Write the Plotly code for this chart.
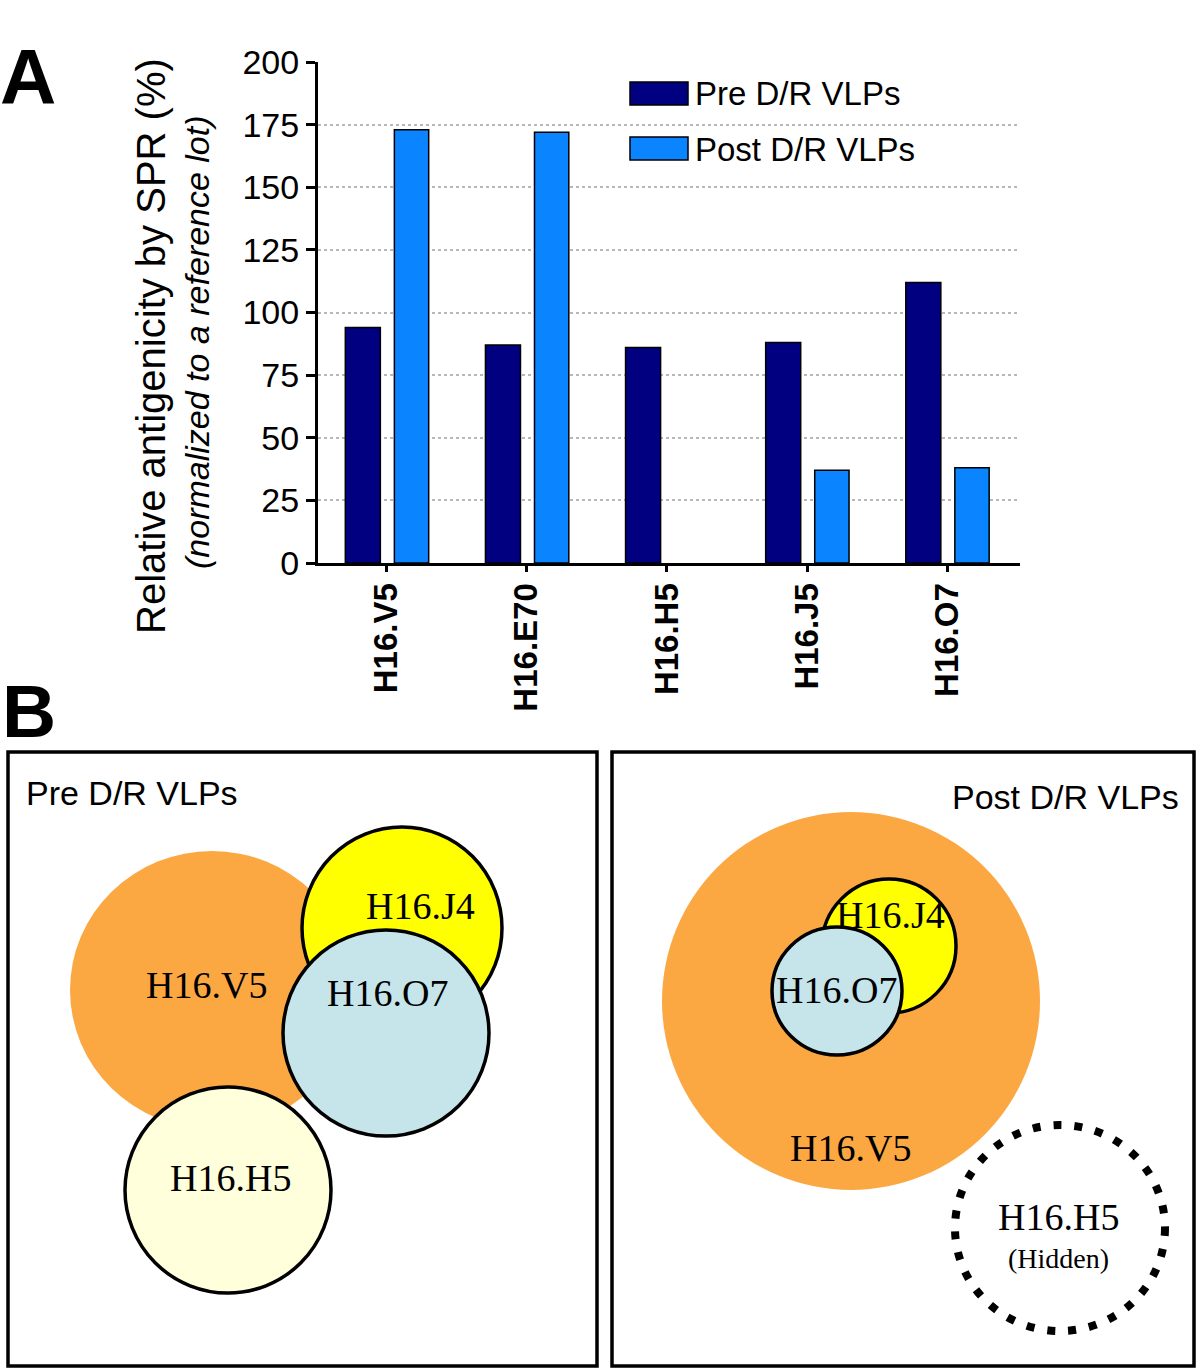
import plotly.graph_objects as go

# ---------------- data ----------------
categories = ["H16.V5", "H16.E70", "H16.H5", "H16.J5", "H16.O7"]
series_names = ["Pre D/R VLPs", "Post D/R VLPs"]
pre_values = [94, 87, 86, 88, 112]
post_values = [173, 172, 0, 37, 38]
y_ticks = [0, 25, 50, 75, 100, 125, 150, 175, 200]
grid_vals = [25, 50, 75, 100, 125, 150, 175]

# panel B diagram labels
venn_pre_labels = ["H16.V5", "H16.J4", "H16.O7", "H16.H5"]
venn_post_labels = ["H16.V5", "H16.J4", "H16.O7", "H16.H5"]

W, H = 1200, 1371
PRE_COLOR = "#000080"
POST_COLOR = "#0A84FF"
ORANGE = "#FBA843"
YELLOW = "#FFFF00"
LIGHTBLUE = "#C6E5EA"
LIGHTYELLOW = "#FFFFDC"
SANS = "Liberation Sans, Arial, sans-serif"
SERIF = "Liberation Serif, Times New Roman, serif"

fig = go.Figure()

fig.add_trace(go.Bar(
    x=categories, y=pre_values, name=series_names[0],
    offset=-0.295, width=0.25,
    marker=dict(color=PRE_COLOR,
                line=dict(color="black", width=[1.5 if v else 0 for v in pre_values])),
    showlegend=False,
))
fig.add_trace(go.Bar(
    x=categories, y=post_values, name=series_names[1],
    offset=0.055, width=0.245,
    marker=dict(color=POST_COLOR,
                line=dict(color="black", width=[1.5 if v else 0 for v in post_values])),
    showlegend=False,
))

# invisible trace for the pixel-space axes of panel B
fig.add_trace(go.Scatter(x=[None], y=[None], xaxis="x2", yaxis="y2",
                         showlegend=False, hoverinfo="skip"))

fig.update_layout(
    width=W, height=H,
    margin=dict(l=0, r=0, t=0, b=0, autoexpand=False),
    paper_bgcolor="white",
    plot_bgcolor="rgba(0,0,0,0)",
    barmode="overlay",
    xaxis=dict(
        type="category",
        domain=[318 / W, 1020 / W],
        range=[-0.49, 4.52],
        showline=True, linecolor="black", linewidth=3,
        ticks="outside", ticklen=6, tickwidth=3, tickcolor="black",
        tickangle=-90, ticklabelstandoff=-2,
        tickfont=dict(family=SANS, size=33, color="black", weight="bold"),
        showgrid=False, zeroline=False, automargin=False,
        anchor="y",
    ),
    yaxis=dict(
        domain=[1 - 563 / H, 1 - 62 / H],
        range=[0, 200],
        tickmode="array", tickvals=y_ticks,
        showline=True, linecolor="black", linewidth=3,
        ticks="outside", ticklen=9, tickwidth=3, tickcolor="black",
        tickfont=dict(family=SANS, size=34, color="black"),
        showgrid=False, zeroline=False, automargin=False,
        minor=dict(tickmode="array", tickvals=grid_vals, showgrid=True,
                   griddash="dot", gridcolor="#b8b8b8", gridwidth=1.5,
                   ticks=""),
        anchor="x",
    ),
    xaxis2=dict(domain=[0, 1], range=[0, W], visible=False, anchor="y2",
                fixedrange=True, automargin=False),
    yaxis2=dict(domain=[0, 1], range=[H, 0], visible=False, anchor="x2",
                fixedrange=True, automargin=False),
)

shapes = []
annotations = []


def circle(cx, cy, rx, ry, fill, line_w=0, dash="solid"):
    return dict(type="circle", xref="x2", yref="y2",
                x0=cx - rx, x1=cx + rx, y0=cy - ry, y1=cy + ry,
                fillcolor=fill,
                line=dict(color="black", width=line_w, dash=dash) if line_w else dict(width=0),
                layer="above")


def label(x, y, text, size, family=SANS, xanchor="center", color="black",
          angle=0, weight="normal", style="normal"):
    return dict(xref="x2", yref="y2", x=x, y=y, text=text, showarrow=False,
                xanchor=xanchor, yanchor="middle", textangle=angle,
                font=dict(family=family, size=size, color=color,
                          weight=weight, style=style))


# ---- manual legend (panel A) ----
shapes.append(dict(type="rect", xref="x2", yref="y2", x0=630, x1=688, y0=82, y1=105,
                   fillcolor=PRE_COLOR, line=dict(color="black", width=1.5)))
shapes.append(dict(type="rect", xref="x2", yref="y2", x0=630, x1=688, y0=137, y1=160,
                   fillcolor=POST_COLOR, line=dict(color="black", width=1.5)))
annotations.append(label(693, 93, series_names[0], 33, xanchor="left"))
annotations.append(label(693, 149, series_names[1], 33, xanchor="left"))

# ---- y-axis title (two lines) ----
annotations.append(label(151, 346, "Relative antigenicity by SPR (%)", 40, angle=-90))
annotations.append(label(197, 342, "(normalized to a reference lot)", 34, angle=-90,
                         style="italic"))

# ---- panel letters ----
annotations.append(label(28, 77, "A", 78, weight="bold"))
annotations.append(label(29, 711, "B", 75, weight="bold"))

# ---- panel B boxes ----
shapes.append(dict(type="rect", xref="x2", yref="y2", x0=8, x1=597, y0=752, y1=1366,
                   line=dict(color="black", width=3.5), fillcolor="rgba(0,0,0,0)"))
shapes.append(dict(type="rect", xref="x2", yref="y2", x0=612, x1=1194, y0=752, y1=1366,
                   line=dict(color="black", width=3.5), fillcolor="rgba(0,0,0,0)"))
annotations.append(label(24, 793, series_names[0], 34, xanchor="left"))
annotations.append(label(1181, 797, series_names[1], 34, xanchor="right"))

# ---- left diagram (Pre) ----
shapes.append(circle(212, 990, 142, 139, ORANGE))
shapes.append(circle(402, 928, 100, 101, YELLOW, 3.5))
shapes.append(circle(386, 1033, 103, 103, LIGHTBLUE, 3.5))
shapes.append(circle(228, 1190, 103, 103, LIGHTYELLOW, 3.5))
annotations.append(label(206, 985, venn_pre_labels[0], 38, family=SERIF))
annotations.append(label(420, 906, venn_pre_labels[1], 38, family=SERIF))
annotations.append(label(387, 993, venn_pre_labels[2], 38, family=SERIF))
annotations.append(label(230, 1178, venn_pre_labels[3], 38, family=SERIF))

# ---- right diagram (Post) ----
shapes.append(circle(851, 1001, 189, 189, ORANGE))
shapes.append(circle(889, 946, 67, 67, YELLOW, 3.5))
shapes.append(circle(837, 991, 65, 64, LIGHTBLUE, 3.5))
shapes.append(circle(1060, 1228, 105, 103, "rgba(0,0,0,0)", 8, dash="8px,13px"))
annotations.append(label(850, 1148, venn_post_labels[0], 38, family=SERIF))
annotations.append(label(890, 915, venn_post_labels[1], 38, family=SERIF))
annotations.append(label(836, 990, venn_post_labels[2], 38, family=SERIF))
annotations.append(label(1058, 1217, venn_post_labels[3], 38, family=SERIF))
annotations.append(label(1058, 1258, "(Hidden)", 28, family=SERIF))

fig.update_layout(shapes=shapes, annotations=annotations)

fig.write_html("out.html", config={"displayModeBar": False},
               post_script="document.body.style.margin='0';")
